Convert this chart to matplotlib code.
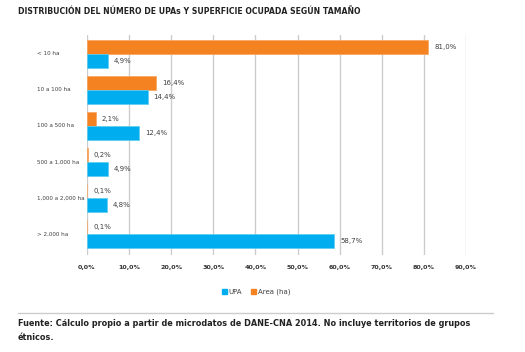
import numpy as np
import matplotlib.pyplot as plt
from matplotlib.patches import Patch
from matplotlib.lines import Line2D

categories = ['< 10 ha', '10 a 100 ha', '100 a 500 ha', '500 a 1,000 ha',
              '1,000 a 2,000 ha', '> 2,000 ha']
upa = [4.9, 14.4, 12.4, 4.9, 4.8, 58.7]
area = [81.0, 16.4, 2.1, 0.2, 0.1, 0.1]
xticks = [0, 10, 20, 30, 40, 50, 60, 70, 80, 90]

blue = '#00AEEF'
orange = '#F58220'
txt = '#404040'

fig = plt.figure(figsize=(5.25, 3.52), dpi=100)
ax = fig.add_axes([0.1657, 0.2756, 0.722, 0.625])

y = np.arange(len(categories))
h = 0.39
ax.barh(y - h / 2, area, height=h, color=orange, edgecolor='#F8A35A', linewidth=0.5, zorder=3)
ax.barh(y + h / 2, upa, height=h, color=blue, edgecolor='#5CCBF3', linewidth=0.5, zorder=3)

def fmt(v):
    return ('%.1f%%' % v).replace('.', ',')

for yi, a, u in zip(y, area, upa):
    ax.text(a + 1.4, yi - h / 2, fmt(a), va='center', ha='left', fontsize=5, color=txt)
    ax.text(u + 1.4, yi + h / 2, fmt(u), va='center', ha='left', fontsize=5, color=txt)

ax.set_xlim(0, 90)
ax.set_ylim(5.57, -0.52)
ax.set_xticks(xticks)
ax.set_xticklabels([fmt(v) for v in xticks], fontsize=4.6, color='#333333', fontweight='bold')
ax.tick_params(axis='x', length=0, pad=7)
ax.set_yticks([])
ax.grid(axis='x', color='#cccccc', linewidth=1, zorder=0)
for s in ax.spines.values():
    s.set_visible(False)

for yi, c in zip(y, categories):
    fig.text(37 / 525, 1 - (53.5 + yi * 36.2) / 352, c, fontsize=4.1, color=txt,
             ha='left', va='center')

fig.text(18 / 525, 1 - 12 / 352, 'DISTRIBUCIÓN DEL NÚMERO DE UPAs Y SUPERFICIE OCUPADA SEGÚN TAMAÑO',
         fontsize=5.6, fontweight='bold', color='#222222', ha='left', va='center')

handles = [Patch(color=blue, label='UPA'), Patch(color=orange, label='Area (ha)')]
fig.legend(handles=handles, loc='center', bbox_to_anchor=(256 / 525, 1 - 292 / 352), ncol=2,
           frameon=False, fontsize=5, handlelength=0.7, handleheight=0.7,
           handletextpad=0.3, columnspacing=1.2, labelcolor=txt)

fig.add_artist(Line2D([18 / 525, 493 / 525], [1 - 313 / 352] * 2, color='#cccccc', linewidth=1))
fig.text(18 / 525, 1 - 324 / 352,
         'Fuente: Cálculo propio a partir de microdatos de DANE-CNA 2014. No incluye territorios de grupos',
         fontsize=5.85, fontweight='bold', color='#222222', ha='left', va='center')
fig.text(18 / 525, 1 - 337 / 352, 'étnicos.', fontsize=5.85, fontweight='bold', color='#222222',
         ha='left', va='center')

fig.savefig('out.png', dpi=100)
